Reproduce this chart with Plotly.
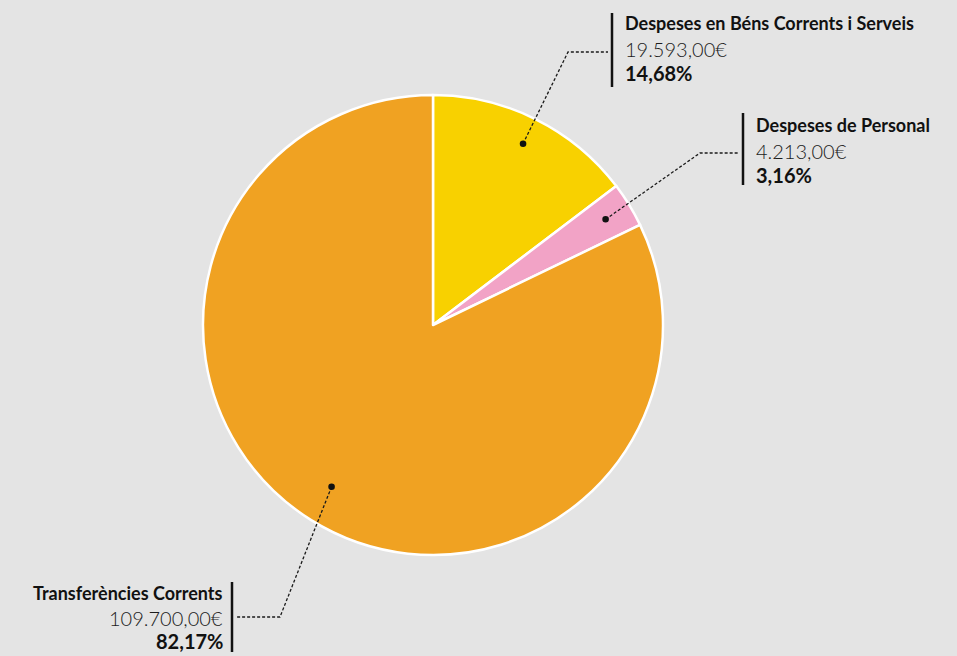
import math
import plotly.graph_objects as go

# ---- data ----
categories = ["Despeses en Béns Corrents i Serveis", "Despeses de Personal", "Transferències Corrents"]
amounts = [19593.00, 4213.00, 109700.00]
amount_labels = ["19.593,00€", "4.213,00€", "109.700,00€"]
percent_labels = ["14,68%", "3,16%", "82,17%"]
colors = ["#F8D100", "#F2A3C6", "#F0A222"]

# ---- layout constants (pixels) ----
W, H = 957, 656
CX, CY, R = 433, 325, 230
BG = "#E4E4E4"
FONT = "Lato, 'Noto Sans', sans-serif"

# label layout: elbow point, bar x, text x, anchor, line y positions, bar top/bottom
label_layout = [
    dict(elbow=(568, 52), bar_x=612, text_x=623, anchor="left", ys=(23, 49, 73), bar=(13, 87)),
    dict(elbow=(700, 153), bar_x=743, text_x=754, anchor="left", ys=(125, 151, 175), bar=(113, 185)),
    dict(elbow=(280, 617), bar_x=232, text_x=225, anchor="right", ys=(593, 618, 641), bar=(582, 652)),
]
dot_frac = [0.88, 0.88, 0.83]

total = sum(amounts)
fig = go.Figure()

fig.add_trace(go.Pie(
    labels=categories, values=amounts, sort=False, direction="clockwise", rotation=0,
    marker=dict(colors=colors, line=dict(color="white", width=2.5)),
    textinfo="none", hoverinfo="label+value+percent", showlegend=False,
    domain=dict(x=[(CX - R) / W, (CX + R) / W], y=[(H - CY - R) / H, (H - CY + R) / H]),
))

cum = 0.0
shapes = []
annotations = []
for i, v in enumerate(amounts):
    frac = v / total
    mid = (cum + frac / 2) * 2 * math.pi
    cum += frac
    dx = CX + dot_frac[i] * R * math.sin(mid)
    dy = CY - dot_frac[i] * R * math.cos(mid)
    L = label_layout[i]
    ex, ey = L["elbow"]
    bx = L["bar_x"] + (-4 if L["anchor"] == "left" else 4)
    shapes.append(dict(type="path", xref="x", yref="y", layer="above",
                       path=f"M {dx},{dy} L {ex},{ey} L {bx},{ey}",
                       line=dict(color="#1a1a1a", width=1.3, dash="3px,2px")))
    rd = 3.3
    shapes.append(dict(type="circle", xref="x", yref="y", layer="above",
                       x0=dx - rd, x1=dx + rd, y0=dy - rd, y1=dy + rd,
                       fillcolor="#111111", line=dict(width=0)))
    shapes.append(dict(type="line", xref="x", yref="y", layer="above",
                       x0=L["bar_x"], x1=L["bar_x"], y0=L["bar"][0], y1=L["bar"][1],
                       line=dict(color="#111111", width=2.5)))
    texts = [
        (f"<b>{categories[i]}</b>", 18, "#111111", None),
        (amount_labels[i], 20, "#1c1c1c", 300),
        (f"<b>{percent_labels[i]}</b>", 20, "#111111", None),
    ]
    for (t, sz, col, wt), yy in zip(texts, L["ys"]):
        annotations.append(dict(
            xref="x", yref="y", x=L["text_x"], y=yy, text=t, showarrow=False,
            xanchor=L["anchor"], yanchor="middle",
            font=dict(family=FONT, size=sz, color=col, weight=wt)))

fig.update_layout(
    width=W, height=H, margin=dict(l=0, r=0, t=0, b=0),
    paper_bgcolor=BG, plot_bgcolor="rgba(0,0,0,0)",
    xaxis=dict(range=[0, W], domain=[0, 1], visible=False, fixedrange=True),
    yaxis=dict(range=[H, 0], domain=[0, 1], visible=False, fixedrange=True),
    shapes=shapes, annotations=annotations, showlegend=False,
)

fig.write_html("out.html", config={"displayModeBar": False},
               post_script="document.body.style.margin='0';document.body.style.background='%s';" % BG)
